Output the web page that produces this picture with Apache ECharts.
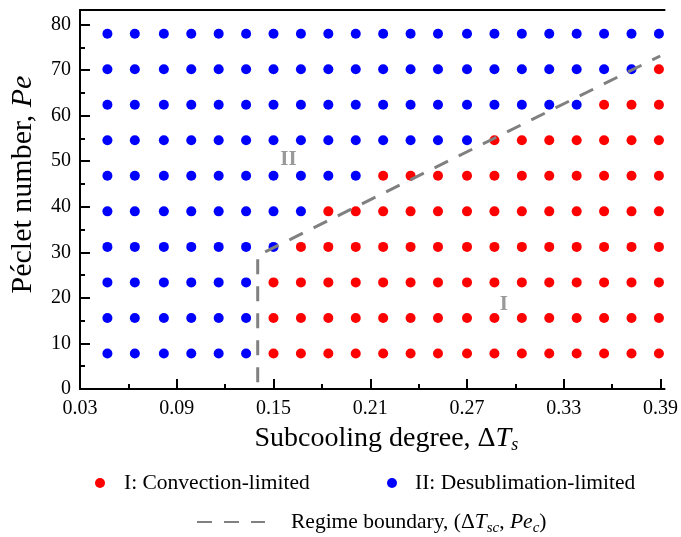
<!DOCTYPE html>
<html>
<head>
<meta charset="utf-8">
<script src="https://cdn.jsdelivr.net/npm/echarts@6/dist/echarts.min.js"></script>
<style>
  html, body { margin: 0; padding: 0; background: #fff; }
  #chart { width: 681px; height: 537px; }
</style>
</head>
<body>
<div id="chart"></div>
<script>
// Subcooling degree ΔTs of each simulated column
const subcooling = [0.047, 0.064, 0.082, 0.099, 0.116, 0.133, 0.150, 0.167, 0.184, 0.201, 0.218,
                    0.235, 0.252, 0.270, 0.287, 0.304, 0.321, 0.338, 0.355, 0.372, 0.389];
// Péclet number of each simulated row
const peclet = [7.8, 15.6, 23.4, 31.2, 39.0, 46.8, 54.6, 62.4, 70.2, 78.0];
// For each row (bottom to top): how many of the leftmost columns are desublimation-limited
const desubCount = [6, 6, 6, 7, 8, 10, 14, 18, 20, 21];
// Regime boundary (ΔTsc, Pec)
const boundaryX = [0.1402, 0.1402, 0.3898];
const boundaryY = [1.5, 29.3, 73.1];
// Region tags
const regionTags = ['II', 'I'];
const regionX = [0.1593, 0.2929];
const regionY = [50.3, 18.6];
// Axis tick values
const xTicks = [0.03, 0.09, 0.15, 0.21, 0.27, 0.33, 0.39];
const yTicks = [0, 10, 20, 30, 40, 50, 60, 70, 80];

const NAME_CONV = 'I: Convection-limited';
const NAME_DESUB = 'II: Desublimation-limited';
const NAME_BOUND = 'Regime boundary';

const convPts = [];
const desubPts = [];
peclet.forEach((pe, r) => {
  subcooling.forEach((dt, c) => {
    (c < desubCount[r] ? desubPts : convPts).push([dt, pe]);
  });
});
const boundary = boundaryX.map((x, i) => [x, boundaryY[i]]);
const tags = regionTags.map((t, i) => [regionX[i], regionY[i], t]);

const FONT = "'Liberation Serif', 'Times New Roman', serif";
const BLACK = '#000';

const nameRich = (size) => ({
  n: { fontFamily: FONT, fontSize: size, color: BLACK, lineHeight: 30 },
  i: { fontFamily: FONT, fontSize: size, color: BLACK, fontStyle: 'italic', lineHeight: 30 },
  s: { fontFamily: FONT, fontSize: Math.round(size * 0.65), color: BLACK, fontStyle: 'italic',
       lineHeight: 16, verticalAlign: 'bottom' }
});

const legendText = {
  fontFamily: FONT, fontSize: 21.5, color: BLACK, lineHeight: 24
};

const chart = echarts.init(document.getElementById('chart'), null, { renderer: 'canvas' });

chart.setOption({
  backgroundColor: '#fff',
  animation: false,
  textStyle: { fontFamily: FONT },
  grid: { left: 76, right: 0, top: 10, bottom: 148, containLabel: false },
  xAxis: [{
    type: 'value',
    min: 0.03, max: 0.3925, interval: 0.06,
    position: 'bottom',
    name: '{n|Subcooling degree, Δ}{i|T}{s|s}',
    nameLocation: 'middle',
    nameGap: 35,
    nameTextStyle: { rich: nameRich(28), padding: [0, 0, 0, 28] },
    axisLine: { show: true, onZero: false, lineStyle: { color: BLACK, width: 2 } },
    axisTick: { show: true, inside: true, length: 10, customValues: xTicks,
                lineStyle: { color: BLACK, width: 2 } },
    minorTick: { show: true, splitNumber: 2, length: 5, lineStyle: { color: BLACK, width: 2 } },
    axisLabel: {
      show: true, margin: 10, color: BLACK, fontFamily: FONT, fontSize: 20,
      customValues: xTicks,
      formatter: v => v.toFixed(2)
    },
    splitLine: { show: false },
    minorSplitLine: { show: false }
  }, {
    type: 'value',
    min: 0.03, max: 0.3925,
    position: 'top',
    axisLine: { show: true, onZero: false, lineStyle: { color: BLACK, width: 2 } },
    axisTick: { show: false },
    axisLabel: { show: false },
    splitLine: { show: false }
  }],
  yAxis: {
    type: 'value',
    min: 0, max: 83.2, interval: 10,
    position: 'left',
    name: '{n|Péclet number, }{i|Pe}',
    nameLocation: 'middle',
    nameGap: 42,
    nameRotate: 90,
    nameTextStyle: { rich: nameRich(30), padding: [0, 0, 0, 30] },
    axisLine: { show: true, onZero: false, lineStyle: { color: BLACK, width: 2 } },
    axisTick: { show: true, inside: true, length: 10, customValues: yTicks,
                lineStyle: { color: BLACK, width: 2 } },
    minorTick: { show: true, splitNumber: 2, length: 5, lineStyle: { color: BLACK, width: 2 } },
    axisLabel: {
      show: true, margin: 9, color: BLACK, fontFamily: FONT, fontSize: 20,
      customValues: yTicks
    },
    splitLine: { show: false },
    minorSplitLine: { show: false }
  },
  legend: [{
    data: [NAME_CONV],
    left: 95, top: 471, padding: 0,
    icon: 'circle', itemWidth: 10, itemHeight: 10,
    selectedMode: false,
    textStyle: Object.assign({ padding: [0, 0, 0, 14] }, legendText)
  }, {
    data: [NAME_DESUB],
    left: 387, top: 471, padding: 0,
    icon: 'circle', itemWidth: 10, itemHeight: 10,
    selectedMode: false,
    textStyle: Object.assign({ padding: [0, 0, 0, 13] }, legendText)
  }, {
    data: [NAME_BOUND],
    left: 196, top: 511, padding: 0,
    itemWidth: 68, itemHeight: 14,
    selectedMode: false,
    itemStyle: { opacity: 0 },
    formatter: () => '{n|Regime boundary, (Δ}{i|T}{s|sc}{n|, }{i|Pe}{s|c}{n|)}',
    textStyle: {
      padding: [0, 0, 0, 21],
      rich: {
        n: { fontFamily: FONT, fontSize: 21.5, color: BLACK, lineHeight: 28 },
        i: { fontFamily: FONT, fontSize: 21.5, color: BLACK, fontStyle: 'italic', lineHeight: 28 },
        s: { fontFamily: FONT, fontSize: 15, color: BLACK, fontStyle: 'italic', lineHeight: 14, verticalAlign: 'bottom' }
      }
    }
  }],
  series: [{
    name: NAME_CONV,
    type: 'scatter',
    data: convPts,
    symbol: 'circle',
    symbolSize: 10,
    itemStyle: { color: '#ff0000', opacity: 1 },
    z: 3
  }, {
    name: NAME_DESUB,
    type: 'scatter',
    data: desubPts,
    symbol: 'circle',
    symbolSize: 10,
    itemStyle: { color: '#0000ff', opacity: 1 },
    z: 3
  }, {
    name: NAME_BOUND,
    type: 'line',
    data: boundary,
    symbol: 'none',
    showSymbol: false,
    itemStyle: { color: '#808080' },
    lineStyle: { color: '#808080', width: 3, type: [15, 12], cap: 'butt' },
    z: 4
  }, {
    name: 'regions',
    type: 'scatter',
    data: tags,
    symbolSize: 1,
    itemStyle: { color: 'rgba(0,0,0,0)' },
    silent: true,
    label: {
      show: true, position: 'inside',
      formatter: p => p.data[2],
      fontFamily: FONT, fontSize: 21, fontWeight: 'bold', color: '#808080'
    },
    z: 5
  }]
});
</script>
</body>
</html>
